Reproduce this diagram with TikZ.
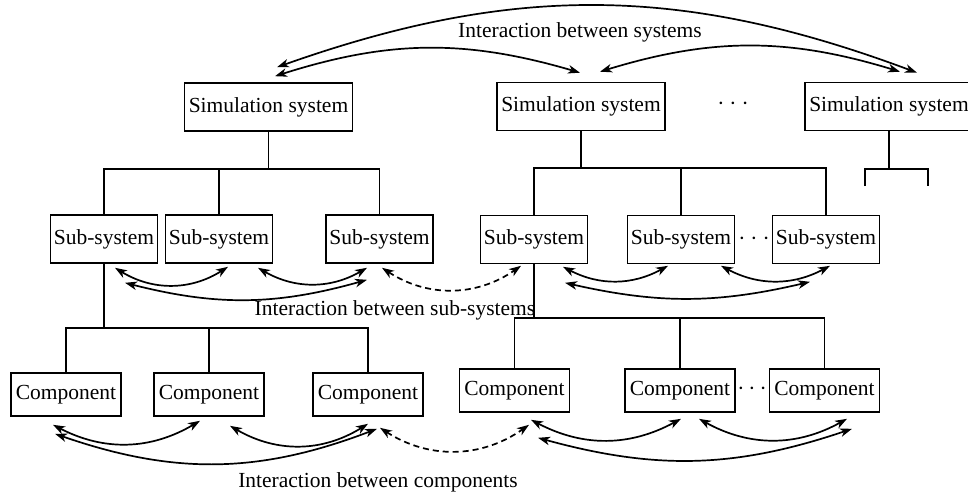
\documentclass[tikz,border=0pt]{standalone}
\usepackage{fontspec}
\setmainfont{Liberation Serif}
\usetikzlibrary{arrows.meta}
\begin{document}
\begin{tikzpicture}[x=1pt,y=1pt,
  box/.style={draw, line width=1.6pt, inner sep=0pt, font=\fontsize{21.5}{25}\selectfont},
  ssbox/.style={box, minimum width=168pt, minimum height=48pt},
  subbox/.style={box, minimum width=107pt, minimum height=48pt},
  compbox/.style={box, minimum width=110pt, minimum height=43pt},
  tree/.style={line width=1.6pt},
  arr/.style={line width=1.7pt, {Stealth[length=12pt,width=8.5pt,inset=3.5pt]}-{Stealth[length=12pt,width=8.5pt,inset=3.5pt]}},
  darr/.style={arr, dash pattern=on 6pt off 4pt},
  lbl/.style={font=\fontsize{21.5}{25}\selectfont, inner sep=0pt}]
\useasboundingbox (0,0) rectangle (968,-498);

% systems
\node[ssbox] (ss1) at (268.5,-107) {Simulation system};
\node[ssbox] (ss2) at (581,-106.5) {Simulation system};
\node[ssbox] (ss3) at (889,-106.5) {Simulation system};
\node[lbl] (dots1) at (733,-106) {·\hspace{5pt}·\hspace{5pt}·};

% sub-systems
\node[subbox] (sub1) at (104,-239) {Sub-system};
\node[subbox] (sub2) at (219,-239) {Sub-system};
\node[subbox] (sub3) at (379.5,-239) {Sub-system};
\node[subbox] (sub4) at (534,-239.5) {Sub-system};
\node[subbox] (sub5) at (681,-239.5) {Sub-system};
\node[subbox] (sub6) at (826,-239.5) {Sub-system};
\node[lbl] (dots2) at (754,-241) {·\hspace{5pt}·\hspace{5pt}·};

% components
\node[compbox] (c1) at (66,-394.5) {Component};
\node[compbox] (c2) at (209,-394.5) {Component};
\node[compbox] (c3) at (368,-394.5) {Component};
\node[compbox] (c4) at (514.5,-390.5) {Component};
\node[compbox] (c5) at (680,-390.5) {Component};
\node[compbox] (c6) at (824.5,-390.5) {Component};
\node[lbl] (dots3) at (752,-391) {·\hspace{4pt}·\hspace{4pt}·};

% tree lines
\coordinate (h1) at (0,-169);
\coordinate (h2) at (0,-168);
\coordinate (h3) at (0,-169);
\coordinate (h4) at (0,-328);
\coordinate (h5) at (0,-318);
\coordinate (t1) at (865,-186);
\coordinate (t2) at (928,-186);

\draw[tree] (ss1.south) -- (ss1.south |- h1);
\draw[tree] (sub1.north) |- (sub3.north |- h1) -- (sub3.north);
\draw[tree] (sub2.north) -- (sub2.north |- h1);

\draw[tree] (ss2.south) -- (ss2.south |- h2);
\draw[tree] (sub4.north) |- (sub6.north |- h2) -- (sub6.north);
\draw[tree] (sub5.north) -- (sub5.north |- h2);

\draw[tree] (ss3.south) -- (ss3.south |- h3);
\draw[tree] (t1) |- (t2 |- h3) -- (t2);

\draw[tree] (sub1.south) -- (sub1.south |- h4);
\draw[tree] (c1.north) |- (c3.north |- h4) -- (c3.north);
\draw[tree] (c2.north) -- (c2.north |- h4);

\draw[tree] (sub4.south) -- (sub4.south |- h5);
\draw[tree] (c4.north) |- (c6.north |- h5) -- (c6.north);
\draw[tree] (c5.north) -- (c5.north |- h5);

% labels
\node[lbl] (lsys) at (580,-32) {Interaction between systems};
\node[lbl] (lsub) at (395,-310) {Interaction between sub-systems};
\node[lbl] (lcomp) at (378,-482) {Interaction between components};

% system interactions
\draw[arr] ([xshift=8.5pt,yshift=15pt]ss1.north) to[bend left=20] ([xshift=28pt,yshift=9pt]ss3.north);
\draw[arr] ([xshift=6.5pt,yshift=6pt]ss1.north) to[bend left=17] ([xshift=-1pt,yshift=9pt]ss2.north);
\draw[arr] ([xshift=19pt,yshift=10pt]ss2.north) to[bend left=17] ([xshift=11pt,yshift=10pt]ss3.north);

% sub-system interactions
\draw[arr] ([xshift=11pt,yshift=-4pt]sub1.south) to[bend right=32] ([xshift=9pt,yshift=-3pt]sub2.south);
\draw[arr] ([xshift=39pt,yshift=-4pt]sub2.south) to[bend right=30] ([xshift=-12.5pt,yshift=-4pt]sub3.south);
\draw[arr] ([xshift=21pt,yshift=-19pt]sub1.south) to[bend right=15] ([xshift=-12.5pt,yshift=-16pt]sub3.south);
\draw[darr] ([xshift=2.5pt,yshift=-4pt]sub3.south) to[bend right=34] ([xshift=-13pt,yshift=-1.5pt]sub4.south);
\draw[arr] ([xshift=29pt,yshift=-2.5pt]sub4.south) to[bend right=28] ([xshift=-13pt,yshift=-1.5pt]sub5.south);
\draw[arr] ([xshift=40pt,yshift=-1.5pt]sub5.south) to[bend right=28] ([xshift=4pt,yshift=-1.5pt]sub6.south);
\draw[arr] ([xshift=31pt,yshift=-18.5pt]sub4.south) to[bend right=13] ([xshift=-16pt,yshift=-17.5pt]sub6.south);

% component interactions
\draw[arr] ([xshift=-13pt,yshift=-8pt]c1.south) to[bend right=29] ([xshift=-9pt,yshift=-4pt]c2.south);
\draw[arr] ([xshift=21pt,yshift=-9pt]c2.south) to[bend right=31] ([xshift=0pt,yshift=-7pt]c3.south);
\draw[arr] ([xshift=-11pt,yshift=-17pt]c1.south) to[bend right=20] ([xshift=9pt,yshift=-12pt]c3.south);
\draw[darr] ([xshift=12pt,yshift=-11pt]c3.south) to[bend right=34] ([xshift=14.5pt,yshift=-12pt]c4.south);
\draw[arr] ([xshift=16.5pt,yshift=-7pt]c4.south) to[bend right=28] ([xshift=1pt,yshift=-6pt]c5.south);
\draw[arr] ([xshift=19pt,yshift=-6pt]c5.south) to[bend right=29] ([xshift=22.5pt,yshift=-6pt]c6.south);
\draw[arr] ([xshift=23.5pt,yshift=-25pt]c4.south) to[bend right=17] ([xshift=27.5pt,yshift=-16pt]c6.south);
\end{tikzpicture}
\end{document}
